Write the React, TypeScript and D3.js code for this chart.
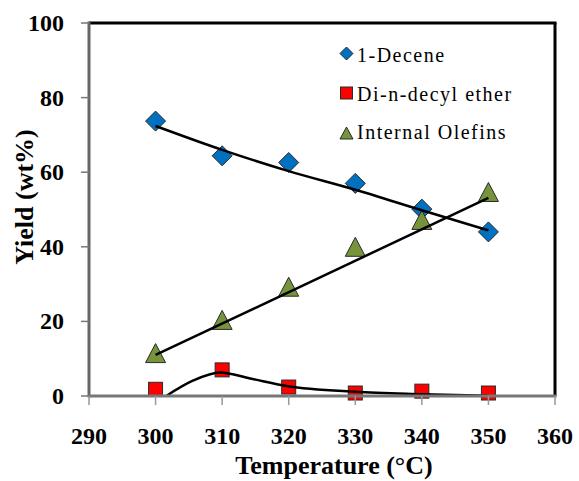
import React from 'react';
import * as d3 from 'd3';

// data
const temps = [300, 310, 320, 330, 340, 350];
const decene = [73.7, 64.4, 62.6, 57.0, 50.1, 44.0];
const ether = [1.8, 7.0, 2.4, 0.8, 1.3, 0.8];
const olefins = [11.5, 20.4, 29.3, 40.0, 47.2, 54.7];

// trendlines as drawn in the figure
const deceneTrend: [number, number][] = [[300, 72.4], [310, 66.0], [320, 60.3], [330, 55.3], [340, 49.8], [350, 44.4]];
const etherTrend: [number, number][] = [[301.6, 0], [305.6, 4.1], [309.7, 6.3], [314.2, 4.7], [319.7, 2.7], [330, 1.15], [340, 0.5], [350, 0.05]];
const olefinTrend: [number, number][] = [[300, 11.0], [350, 53.1]];

const xTicks = [290, 300, 310, 320, 330, 340, 350, 360];
const yTicks = [0, 20, 40, 60, 80, 100];

const legendItems = ['1-Decene', 'Di-n-decyl ether', 'Internal Olefins'];

const FONT = "'Liberation Serif', 'DejaVu Serif', serif";

export default function App() {
  const W = 579, H = 481;
  const left = 89, right = 555, top = 23, bottom = 396;

  const x = d3.scaleLinear().domain([290, 360]).range([left, right]);
  const y = d3.scaleLinear().domain([0, 100]).range([bottom, top]);

  const curved = d3.line<[number, number]>()
    .x(d => x(d[0]))
    .y(d => y(d[1]))
    .curve(d3.curveMonotoneX);
  const straight = d3.line<[number, number]>()
    .x(d => x(d[0]))
    .y(d => y(d[1]));

  const serifBold: React.CSSProperties = { fontFamily: FONT, fontWeight: 'bold', fontSize: 24 };
  const titleBold: React.CSSProperties = { fontFamily: FONT, fontWeight: 'bold', fontSize: 26 };
  const serif: React.CSSProperties = { fontFamily: FONT, fontSize: 20, letterSpacing: 1.5 };

  const diamond = (cx: number, cy: number, r: number) =>
    `M${cx},${cy - r}L${cx + r},${cy}L${cx},${cy + r}L${cx - r},${cy}Z`;
  const tri = (cx: number, cy: number, w: number, h: number) =>
    `M${cx},${cy - h / 2}L${cx + w / 2},${cy + h / 2}L${cx - w / 2},${cy + h / 2}Z`;

  return (
    <svg width={W} height={H} style={{ position: 'absolute', left: 0, top: 0, background: '#fff' }}>
      {/* markers */}
      <g stroke="#2a2a2a" strokeWidth={1}>
        {temps.map((t, i) => (
          <path key={'d' + i} d={diamond(x(t), y(decene[i]), 10)} fill="#0070c0" />
        ))}
        {temps.map((t, i) => (
          <rect key={'s' + i} x={x(t) - 7} y={y(ether[i]) - 7} width={14} height={14} fill="#ff0000" />
        ))}
        {temps.map((t, i) => (
          <path key={'t' + i} d={tri(x(t), y(olefins[i]), 20, 19)} fill="#77933c" />
        ))}
      </g>

      {/* trendlines */}
      <g fill="none" stroke="#000" strokeWidth={2.5}>
        <path d={curved(deceneTrend) || ''} />
        <path d={curved(etherTrend) || ''} />
        <path d={straight(olefinTrend) || ''} />
      </g>

      {/* frame */}
      <line x1={left} x2={right + 1.5} y1={top} y2={top} stroke="#000" strokeWidth={3} />
      <line x1={right} x2={right} y1={top} y2={bottom} stroke="#000" strokeWidth={3} />
      <line x1={left} x2={left} y1={top - 1.5} y2={bottom + 1.5} stroke="#666" strokeWidth={3} />
      <line x1={left} x2={right + 1.5} y1={bottom} y2={bottom} stroke="#777" strokeWidth={3} />

      {/* y axis */}
      {yTicks.map(v => (
        <g key={'y' + v}>
          <line x1={81} x2={left} y1={y(v)} y2={y(v)} stroke="#777" strokeWidth={1.5} />
          <text x={64} y={y(v) + 8} textAnchor="end" style={serifBold}>{v}</text>
        </g>
      ))}
      {/* x axis */}
      {xTicks.map(v => (
        <g key={'x' + v}>
          <line x1={x(v)} x2={x(v)} y1={bottom} y2={405} stroke="#999" strokeWidth={1.5} />
          <text x={x(v)} y={444} textAnchor="middle" style={serifBold}>{v}</text>
        </g>
      ))}

      <text x={334} y={474} textAnchor="middle" style={titleBold}>Temperature (°C)</text>
      <text transform={`translate(33,197) rotate(-90)`} textAnchor="middle" style={titleBold}>Yield (wt%)</text>

      {/* legend */}
      <g stroke="#2a2a2a" strokeWidth={1}>
        <path d={diamond(346.5, 53.5, 6.5)} fill="#0070c0" />
        <rect x={340.5} y={87} width={12} height={12} fill="#ff0000" />
        <path d={tri(346.5, 133, 13, 12)} fill="#77933c" />
      </g>
      {legendItems.map((s, i) => (
        <text key={s} x={357} y={62 + i * 38.5} style={serif}>{s}</text>
      ))}
    </svg>
  );
}
